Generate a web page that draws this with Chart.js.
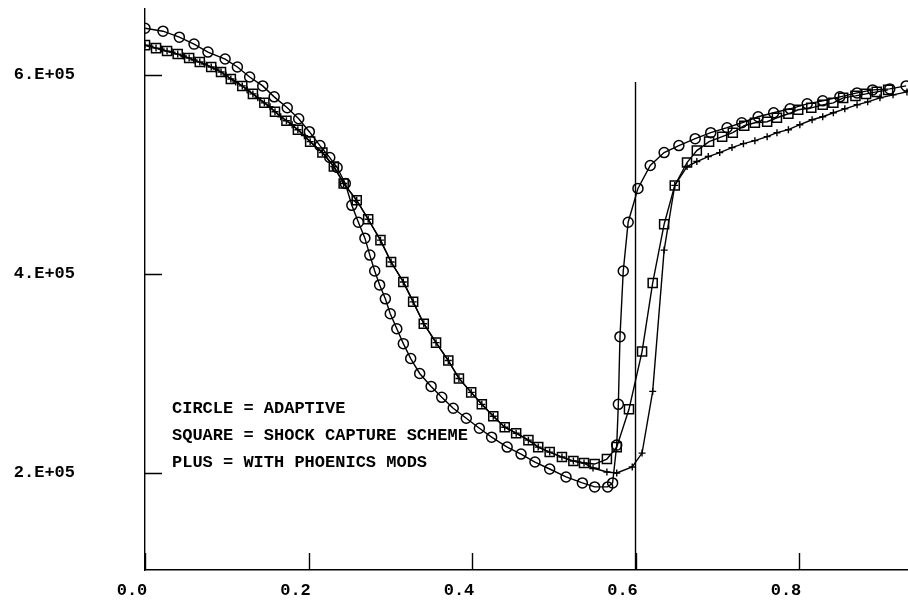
<!DOCTYPE html>
<html>
<head>
<meta charset="utf-8">
<script src="https://cdn.jsdelivr.net/npm/chart.js@4.4.1/dist/chart.umd.min.js"></script>
<style>
  html, body { margin: 0; padding: 0; background: #fff; }
  #wrap { width: 908px; height: 602px; }
</style>
</head>
<body>
<div id="wrap"><canvas id="c"></canvas></div>
<script>
/* ── axis ticks + legend lines ── */
const X_TICKS = [0, 0.2, 0.4, 0.6, 0.8];
const Y_TICKS = [2e5, 4e5, 6e5];
const LEGEND  = ['CIRCLE = ADAPTIVE', 'SQUARE = SHOCK CAPTURE SCHEME', 'PLUS = WITH PHOENICS MODS'];

/* ── circle = adaptive ── */
const CIRCLE_X = [0.000,0.022,0.042,0.060,0.077,0.098,0.113,0.128,0.144,0.158,0.174,0.188,0.201,0.214,0.226,0.235,0.245,
  0.253,0.261,0.269,0.275,0.281,0.287,0.294,0.300,0.308,0.316,0.325,0.336,0.350,0.363,0.377,0.393,0.409,0.424,0.443,
  0.460,0.477,0.495,0.515,0.535,0.550,0.566,0.572,0.577,0.579,0.581,0.585,0.591,0.603,0.618,0.635,0.653,0.673,0.692,
  0.712,0.730,0.750,0.769,0.789,0.810,0.829,0.850,0.871,0.890,0.911,0.931];
const CIRCLE_Y = [647e3,644e3,638e3,631e3,623e3,616e3,608e3,598e3,589e3,578e3,567e3,556e3,543e3,529e3,517e3,507e3,491e3,
  469e3,452e3,436e3,419e3,403e3,389e3,375e3,360e3,345e3,330e3,315e3,300e3,287e3,276e3,265e3,255e3,245e3,236e3,226e3,
  219e3,211e3,204e3,196e3,190e3,186e3,186e3,190e3,228e3,269e3,337e3,403e3,452e3,486e3,509e3,522e3,529e3,536e3,542e3,
  547e3,552e3,558e3,562e3,566e3,571e3,574e3,578e3,582e3,585e3,586e3,589e3];

/* ── square = shock capture scheme ── */
const SQUARE_X = [0.000,0.0135,0.027,0.040,0.054,0.067,0.081,0.093,0.105,0.119,0.132,0.146,0.159,0.173,0.187,0.202,0.217,
  0.231,0.243,0.259,0.273,0.288,0.301,0.316,0.328,0.341,0.356,0.371,0.384,0.399,0.412,0.426,0.440,0.454,0.469,0.481,
  0.495,0.510,0.524,0.537,0.550,0.565,0.577,0.592,0.608,0.621,0.635,0.648,0.663,0.675,0.690,0.706,0.719,0.733,0.746,
  0.761,0.773,0.787,0.799,0.815,0.829,0.842,0.854,0.869,0.882,0.895,0.909];
const SQUARE_Y = [630e3,627e3,624e3,621e3,617e3,613e3,608e3,603e3,596e3,589e3,581e3,572e3,563e3,554e3,545e3,533e3,522e3,
  508e3,491e3,474e3,455e3,434e3,412e3,392e3,372e3,350e3,331e3,313e3,295e3,281e3,269e3,257e3,246e3,240e3,233e3,226e3,
  221e3,216e3,212e3,210e3,209e3,214e3,226e3,264e3,322e3,391e3,450e3,489e3,512e3,524e3,533e3,538e3,542e3,549e3,552e3,
  553e3,557e3,561e3,565e3,567e3,570e3,572e3,577e3,579e3,581e3,583e3,585e3];

/* ── plus = with phoenics mods ── */
const PLUS_X = [0.000,0.006,0.0135,0.020,0.027,0.033,0.040,0.047,0.054,0.060,0.067,0.073,0.081,0.087,0.093,0.099,0.105,
  0.111,0.119,0.125,0.132,0.138,0.146,0.153,0.159,0.166,0.173,0.180,0.187,0.195,0.202,0.217,0.231,0.243,0.259,0.273,
  0.288,0.301,0.316,0.328,0.341,0.356,0.371,0.384,0.399,0.412,0.426,0.440,0.454,0.469,0.481,0.495,0.510,0.524,0.537,
  0.548,0.565,0.577,0.596,0.608,0.621,0.635,0.648,0.663,0.675,0.689,0.703,0.718,0.732,0.746,0.761,0.773,0.787,0.801,
  0.816,0.829,0.842,0.856,0.871,0.884,0.899,0.915,0.932];
const PLUS_Y = [630e3,629e3,627e3,626e3,624e3,623e3,621e3,619e3,617e3,615e3,613e3,611e3,608e3,606e3,603e3,600e3,596e3,
  593e3,589e3,585e3,581e3,577e3,572e3,568e3,563e3,558e3,554e3,550e3,545e3,539e3,533e3,522e3,508e3,491e3,474e3,455e3,
  434e3,412e3,392e3,372e3,350e3,331e3,313e3,295e3,281e3,269e3,257e3,246e3,240e3,233e3,226e3,221e3,216e3,212e3,210e3,
  205e3,201e3,200e3,206e3,220e3,282e3,424e3,489e3,508e3,513e3,518e3,522e3,527e3,531e3,534e3,538e3,542e3,545e3,550e3,
  555e3,558e3,562e3,566e3,570e3,573e3,577e3,580e3,583e3];

/* ── vertical marker line ── */
const SHOCK_X = [0.6, 0.6];
const SHOCK_Y = [102500, 593000];

const FONT = { family: "'Liberation Mono', 'DejaVu Sans Mono', monospace", size: 17, weight: 'bold' };
const pts = (xs, ys) => xs.map((x, i) => ({ x, y: ys[i] }));

const innerTicks = {
  id: 'innerTicks',
  afterDraw(chart) {
    const { ctx, chartArea: a, scales: { x, y } } = chart;
    ctx.save();
    ctx.strokeStyle = '#000';
    ctx.lineWidth = 1.4;
    ctx.beginPath();
    X_TICKS.forEach(v => {
      const px = Math.round(x.getPixelForValue(v)) + 0.5;
      ctx.moveTo(px, a.bottom); ctx.lineTo(px, a.bottom - 17);
    });
    Y_TICKS.forEach(v => {
      const py = Math.round(y.getPixelForValue(v)) + 0.5;
      ctx.moveTo(a.left, py); ctx.lineTo(a.left + 17, py);
    });
    ctx.stroke();
    // legend text
    ctx.fillStyle = '#000';
    ctx.font = 'bold ' + FONT.size + 'px ' + FONT.family;
    ctx.textAlign = 'left';
    ctx.textBaseline = 'middle';
    LEGEND.forEach((t, i) => ctx.fillText(t, 172, 409 + i * 27));
    ctx.restore();
  }
};

new Chart(document.getElementById('c'), {
  type: 'scatter',
  data: {
    datasets: [
      { label: 'shock', data: pts(SHOCK_X, SHOCK_Y), showLine: true, borderColor: '#000', borderWidth: 1.4, pointRadius: 0 },
      { label: 'PLUS', data: pts(PLUS_X, PLUS_Y), showLine: true, borderColor: '#000', borderWidth: 1.4,
        pointStyle: 'cross', pointRadius: 3.5, pointBorderWidth: 1.4, pointBorderColor: '#000', pointBackgroundColor: 'transparent' },
      { label: 'SQUARE', data: pts(SQUARE_X, SQUARE_Y), showLine: true, borderColor: '#000', borderWidth: 1.4,
        pointStyle: 'rect', pointRadius: 6.4, pointBorderWidth: 1.5, pointBorderColor: '#000', pointBackgroundColor: 'transparent' },
      { label: 'CIRCLE', data: pts(CIRCLE_X, CIRCLE_Y), showLine: true, borderColor: '#000', borderWidth: 1.4,
        pointStyle: 'circle', pointRadius: 5, pointBorderWidth: 1.5, pointBorderColor: '#000', pointBackgroundColor: 'transparent' },
    ],
  },
  options: {
    responsive: true,
    maintainAspectRatio: false,
    animation: false,
    devicePixelRatio: 1,
    layout: { autoPadding: false, padding: { top: 9, right: 0, left: 0, bottom: 0 } },
    plugins: { legend: { display: false }, tooltip: { enabled: false } },
    scales: {
      x: {
        type: 'linear', min: 0, max: 0.9333,
        afterBuildTicks: s => { s.ticks = X_TICKS.map(v => ({ value: v })); },
        afterFit: s => { s.height = 32; s.paddingLeft = 0; s.paddingRight = 0; },
        grid: { display: false, drawTicks: false },
        border: { display: true, color: '#000', width: 1.4 },
        ticks: { color: '#000', font: FONT, padding: 11, labelOffset: -13, maxRotation: 0,
                 callback: v => v.toFixed(1) },
      },
      y: {
        type: 'linear', min: 102500, max: 666300,
        afterBuildTicks: s => { s.ticks = Y_TICKS.map(v => ({ value: v })); },
        afterFit: s => { s.width = 145; s.paddingTop = 0; s.paddingBottom = 0; },
        grid: { display: false, drawTicks: false },
        border: { display: true, color: '#000', width: 1.4 },
        ticks: { color: '#000', font: FONT, padding: 70,
                 callback: v => Math.round(v / 1e5) + '.E+05' },
      },
    },
  },
  plugins: [innerTicks],
});
</script>
</body>
</html>
